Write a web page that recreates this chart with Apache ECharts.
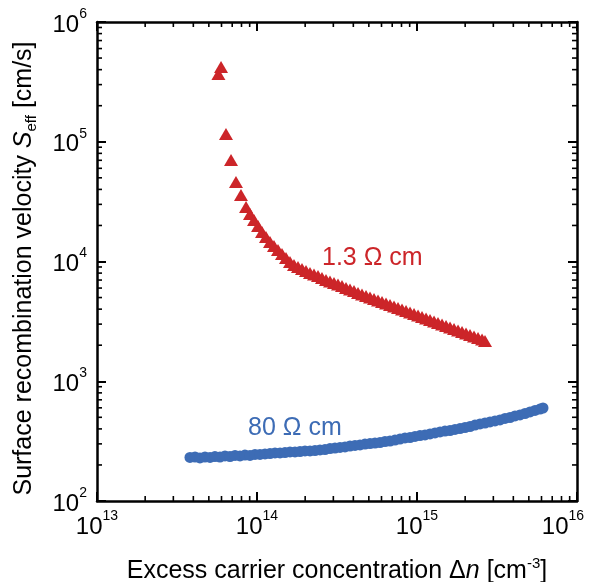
<!DOCTYPE html>
<html><head><meta charset="utf-8">
<script src="https://cdn.jsdelivr.net/npm/echarts@6/dist/echarts.min.js"></script>
<style>html,body{margin:0;padding:0;background:#fff}#c{width:590px;height:582px}</style>
</head><body><div id="c"></div>
<script>
// tick labels (exponents of 10)
const xTickExps = [13, 14, 15, 16];
const yTickExps = [2, 3, 4, 5, 6];
const xMinorTicks = [2e13,3e13,4e13,5e13,6e13,7e13,8e13,9e13,2e14,3e14,4e14,5e14,6e14,7e14,8e14,9e14,2e15,3e15,4e15,5e15,6e15,7e15,8e15,9e15];
const yMinorTicks = [200,300,400,500,600,700,800,900,2e3,3e3,4e3,5e3,6e3,7e3,8e3,9e3,2e4,3e4,4e4,5e4,6e4,7e4,8e4,9e4,2e5,3e5,4e5,5e5,6e5,7e5,8e5,9e5];

// 1.3 Ohm cm sample (triangles)
const redX = [5.74e13,5.96e13,6.40e13,6.88e13,7.39e13,7.94e13,8.54e13,9.04e13,9.58e13,1.015e14,1.075e14,1.138e14,1.206e14,1.277e14,1.353e14,1.433e14,1.518e14,1.608e14,1.703e14,1.804e14,1.911e14,2.024e14,2.144e14,2.271e14,2.406e14,2.548e14,2.699e14,2.859e14,3.029e14,3.208e14,3.398e14,3.600e14,3.813e14,4.039e14,4.279e14,4.532e14,4.801e14,5.086e14,5.387e14,5.706e14,6.045e14,6.403e14,6.783e14,7.185e14,7.611e14,8.062e14,8.540e14,9.046e14,9.582e14,1.015e15,1.075e15,1.139e15,1.206e15,1.278e15,1.353e15,1.434e15,1.519e15,1.609e15,1.704e15,1.805e15,1.912e15,2.025e15,2.145e15,2.272e15,2.407e15,2.550e15,2.661e15];
const redY = [3.68e5,4.21e5,1.16e5,7.04e4,4.61e4,3.59e4,2.85e4,2.49e4,2.22e4,1.98e4,1.76e4,1.60e4,1.455e4,1.347e4,1.247e4,1.155e4,1.070e4,9900,9350,9000,8660,8330,8020,7790,7570,7280,7010,6810,6615,6425,6243,6007,5836,5670,5457,5302,5151,5005,4862,4724,4590,4460,4332,4209,4090,3974,3860,3750,3644,3540,3439,3342,3247,3155,3065,2978,2893,2811,2731,2653,2578,2504,2433,2364,2297,2231,2168];

// 80 Ohm cm sample (circles)
const blueX = [3.81e13,4.10e13,4.40e13,4.73e13,5.09e13,5.46e13,5.87e13,6.31e13,6.78e13,7.29e13,7.83e13,8.41e13,9.04e13,9.72e13,1.044e14,1.122e14,1.206e14,1.296e14,1.393e14,1.496e14,1.608e14,1.728e14,1.857e14,1.995e14,2.144e14,2.304e14,2.476e14,2.661e14,2.859e14,3.073e14,3.302e14,3.548e14,3.813e14,4.097e14,4.403e14,4.732e14,5.085e14,5.464e14,5.872e14,6.310e14,6.781e14,7.286e14,7.830e14,8.414e14,9.042e14,9.716e14,1.044e15,1.122e15,1.206e15,1.296e15,1.393e15,1.496e15,1.608e15,1.728e15,1.857e15,1.995e15,2.144e15,2.304e15,2.476e15,2.661e15,2.859e15,3.073e15,3.302e15,3.548e15,3.813e15,4.097e15,4.403e15,4.732e15,5.085e15,5.464e15,5.872e15,6.13e15];
const blueY = [231,233,229,233,231,235,233,238,235,240,238,242,240,245,245,247,249,252,252,254,257,257,259,262,262,264,267,269,274,277,280,283,288,291,294,299,302,305,308,314,317,323,329,336,339,346,352,356,363,370,377,384,388,396,403,411,419,431,440,448,457,466,475,489,498,513,523,538,554,570,586,598];

const redLabel = '1.3 Ω cm';
const blueLabel = '80 Ω cm';

const RED = '#cc2529', BLUE = '#3d6cb5';
const FONT = '"Liberation Sans", Arial, sans-serif';

const rich = {
  b: {fontSize: 24, fontFamily: FONT, color: '#000', lineHeight: 30, verticalAlign: 'bottom'},
  s: {fontSize: 14, fontFamily: FONT, color: '#000', lineHeight: 30, verticalAlign: 'top'},
  se: {fontSize: 14, fontFamily: FONT, color: '#000', lineHeight: 30, verticalAlign: 'top', padding: [0, 28, 0, 0]}
};
function fmt(exps, shiftLast) {
  return v => {
    const e = Math.round(Math.log10(v));
    if (!exps.includes(e)) return '';
    const last = shiftLast && e === exps[exps.length - 1];
    return '{b|10}{' + (last ? 'se' : 's') + '|' + e + '}';
  };
}
const lineStyle = {color: '#000', width: 2.5};
function xAx(pos, show) {
  return {
    type: 'log', logBase: 10, min: 1e13, max: 1e16, position: pos,
    axisLine: {show: true, lineStyle},
    axisTick: {show: true, inside: true, length: 9, lineStyle: {color: '#000', width: 2}},
    splitLine: {show: false}, minorTick: {show: false},
    axisLabel: {show: show, margin: 8, formatter: fmt(xTickExps, true), rich},
    name: show ? 'Excess carrier concentration {t|Δ}{i|n} [cm{s|-3}]' : '',
    nameLocation: 'middle', nameGap: 55,
    nameTextStyle: {fontSize: 25, fontFamily: FONT, color: '#000',
      rich: {t: {fontSize: 25, fontFamily: FONT}, i: {fontSize: 25, fontStyle: 'italic', fontFamily: FONT},
             s: {fontSize: 15, fontFamily: FONT, verticalAlign: 'top', lineHeight: 30}}}
  };
}
function yAx(pos, show) {
  return {
    type: 'log', logBase: 10, min: 1e2, max: 1e6, position: pos,
    axisLine: {show: true, lineStyle},
    axisTick: {show: true, inside: true, length: 9, lineStyle: {color: '#000', width: 2}},
    splitLine: {show: false}, minorTick: {show: false},
    axisLabel: {show: show, margin: 10, formatter: fmt(yTickExps, false), rich},
    name: show ? 'Surface recombination velocity {i|S}{sub|eff} [cm/s]' : '',
    nameLocation: 'middle', nameGap: 58,
    nameTextStyle: {fontSize: 25, fontFamily: FONT, color: '#000', padding: [0, 14, 0, 0],
      rich: {i: {fontSize: 25, fontStyle: 'italic', fontFamily: FONT},
             sub: {fontSize: 15, fontFamily: FONT, verticalAlign: 'bottom', lineHeight: 30}}}
  };
}
function minorSeries(vals, isX) {
  return {
    type: 'custom', xAxisIndex: 0, yAxisIndex: 0, silent: true, clip: false, z: 5,
    data: vals.map(v => isX ? [v, 1e2] : [1e13, v]),
    renderItem: (params, api) => {
      const v = isX ? api.value(0) : api.value(1);
      const L = 5;
      const st = {stroke: '#000', lineWidth: 1.6};
      if (isX) {
        const b = api.coord([v, 1e2]), t = api.coord([v, 1e6]);
        return {type: 'group', children: [
          {type: 'line', shape: {x1: b[0], y1: b[1], x2: b[0], y2: b[1] - L}, style: st},
          {type: 'line', shape: {x1: t[0], y1: t[1], x2: t[0], y2: t[1] + L}, style: st}]};
      } else {
        const l = api.coord([1e13, v]), r = api.coord([1e16, v]);
        return {type: 'group', children: [
          {type: 'line', shape: {x1: l[0], y1: l[1], x2: l[0] + L, y2: l[1]}, style: st},
          {type: 'line', shape: {x1: r[0], y1: r[1], x2: r[0] - L, y2: r[1]}, style: st}]};
      }
    }
  };
}
const chart = echarts.init(document.getElementById('c'), null, {renderer: 'canvas'});
chart.setOption({
  animation: false,
  backgroundColor: '#fff',
  grid: {left: 97, top: 22, width: 480, height: 479, containLabel: false, outerBoundsMode: 'none'},
  xAxis: [xAx('bottom', true), xAx('top', false)],
  yAxis: [yAx('left', true), yAx('right', false)],
  series: [
    {type: 'scatter', symbol: 'circle', symbolSize: 11, itemStyle: {color: BLUE, opacity: 1},
     data: blueX.map((x, i) => [x, blueY[i]]), z: 3},
    {type: 'scatter', symbol: 'triangle', symbolSize: [14, 12], itemStyle: {color: RED, opacity: 1},
     data: redX.map((x, i) => [x, redY[i]]), z: 4},
    minorSeries(xMinorTicks, true),
    minorSeries(yMinorTicks, false)
  ],
  graphic: [
    {type: 'text', left: 322, top: 246, style: {text: redLabel, fill: RED, font: '25px ' + FONT}},
    {type: 'text', left: 248, top: 416, style: {text: blueLabel, fill: BLUE, font: '25px ' + FONT}}
  ]
});
</script></body></html>
